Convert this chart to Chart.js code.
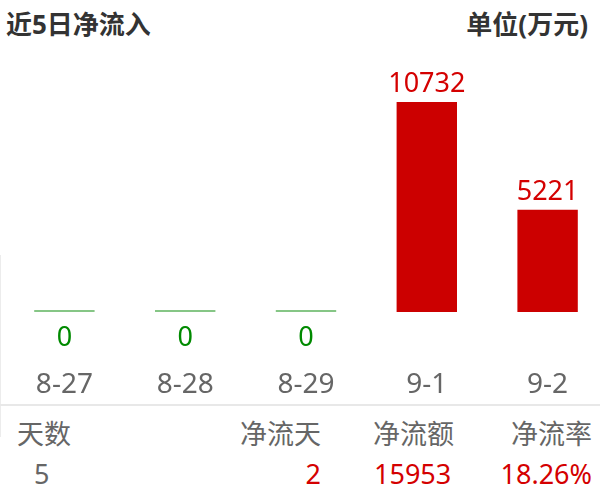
<!DOCTYPE html>
<html>
<head>
<meta charset="utf-8">
<script src="https://cdn.jsdelivr.net/npm/chart.js@4/dist/chart.umd.min.js"></script>
<style>
  html, body { margin:0; padding:0; background:#fff; width:600px; height:497px; overflow:hidden; }
  body { position:relative; font-family:"Noto Sans","Noto Sans CJK SC",sans-serif; }
  #wrap { position:absolute; left:0; top:0; width:612px; height:400px; }
  .t { position:absolute; white-space:nowrap; line-height:1; }
  .title { font-weight:bold; font-size:26px; color:#333; top:11px; }
  .hd { font-size:27px; color:#666; top:420px; }
  .vl { font-size:27px; top:460px; }
  #sep { position:absolute; left:0; top:404px; width:600px; height:2px; background:#e8e8e8; }
  #vline { position:absolute; left:0; top:255px; width:1px; height:182px; background:#ececec; }
</style>
</head>
<body>
<div class="t title" style="left:6px;">近5日净流入</div>
<div class="t title" style="right:12px;">单位(万元)</div>
<div id="vline"></div>
<div id="wrap"><canvas id="c"></canvas></div>
<div id="sep"></div>
<div class="t hd" style="left:17px;">天数</div>
<div class="t hd" style="right:279px;">净流天</div>
<div class="t hd" style="left:373px;">净流额</div>
<div class="t hd" style="right:8px;">净流率</div>
<div class="t vl" style="left:34px;color:#666;">5</div>
<div class="t vl" style="right:279px;color:#d40000;">2</div>
<div class="t vl" style="left:374px;color:#d40000;">15953</div>
<div class="t vl" style="right:8px;color:#d40000;">18.26%</div>
<script>
const categories = ['8-27', '8-28', '8-29', '9-1', '9-2'];
const netInflow = [0, 0, 0, 10732, 5221];

const valueLabels = {
  id: 'valueLabels',
  afterDatasetsDraw(chart) {
    const ctx = chart.ctx;
    const meta = chart.getDatasetMeta(0);
    const xScale = chart.scales.x;
    const yScale = chart.scales.y;
    ctx.save();
    ctx.textAlign = 'center';
    ctx.textBaseline = 'alphabetic';
    meta.data.forEach((bar, i) => {
      const v = netInflow[i];
      const x = xScale.getPixelForValue(i);
      ctx.font = '27px "Noto Sans", sans-serif';
      if (v > 0) {
        ctx.fillStyle = '#d40000';
        ctx.fillText(String(v), x, yScale.getPixelForValue(v) - 10);
      } else {
        ctx.fillStyle = '#008a00';
        ctx.fillText(String(v), x, yScale.getPixelForValue(0) + 34);
      }
      ctx.font = '28px "Noto Sans", sans-serif';
      ctx.fillStyle = '#666';
      ctx.fillText(categories[i], x, yScale.getPixelForValue(0) + 81);
    });
    ctx.restore();
  }
};

new Chart(document.getElementById('c'), {
  type: 'bar',
  data: {
    labels: categories,
    datasets: [{
      data: netInflow,
      backgroundColor: netInflow.map(v => v > 0 ? '#cc0000' : '#86c686'),
      borderWidth: 0,
      minBarLength: 2,
      barPercentage: 0.5,
      categoryPercentage: 1
    }]
  },
  options: {
    responsive: true,
    maintainAspectRatio: false,
    animation: false,
    layout: { padding: { left: 4, right: 4, top: 40, bottom: 88 } },
    plugins: { legend: { display: false }, tooltip: { enabled: false } },
    scales: {
      x: { display: false },
      y: { display: false, min: 0, max: 13900 }
    }
  },
  plugins: [valueLabels]
});
</script>
</body>
</html>
